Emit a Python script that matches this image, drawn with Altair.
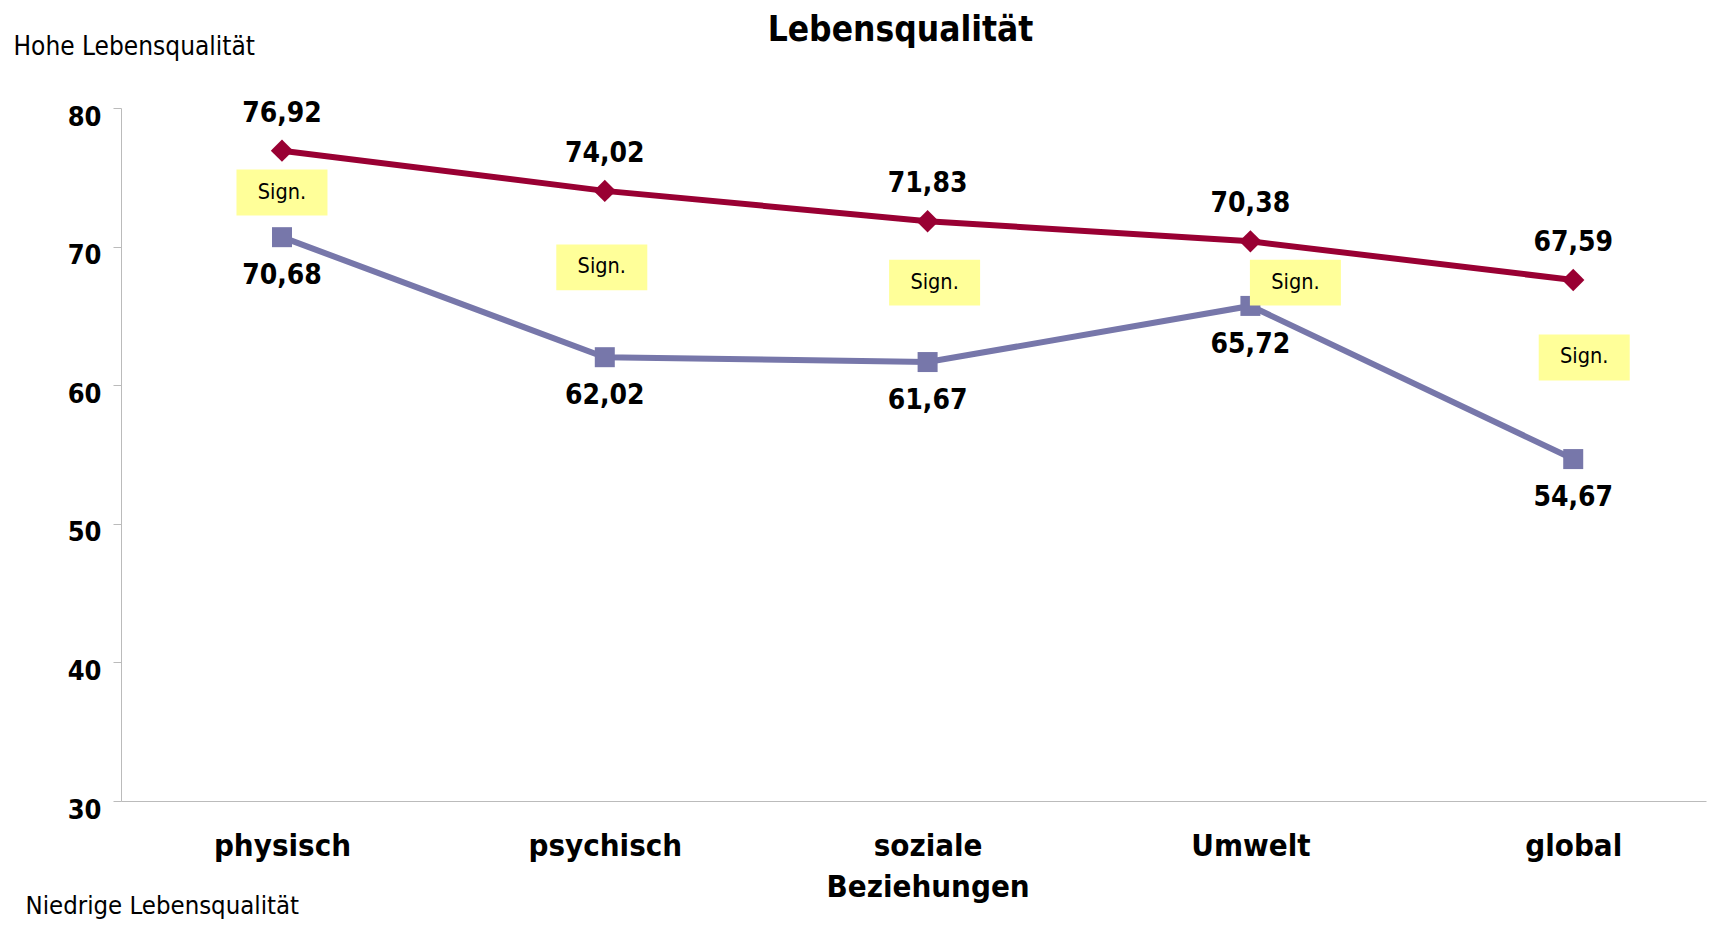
import altair as alt
import pandas as pd

# ---------------- data ----------------
categories = ["physisch", "psychisch", "soziale Beziehungen", "Umwelt", "global"]
hohe_values = [76.92, 74.02, 71.83, 70.38, 67.59]
niedrige_values = [70.68, 62.02, 61.67, 65.72, 54.67]
y_ticks = [30, 40, 50, 60, 70, 80]

# "Sign." annotation boxes (anchored in data units, small pixel nudges)
sign_text = ["Sign.", "Sign.", "Sign.", "Sign.", "Sign."]
sign_y = [73.9, 68.5, 67.4, 67.4, 62.0]
sign_dx = [0, -3, 7, 45, 11]

FONT = "DejaVu Sans Condensed, DejaVu Sans"
RED = "#990033"
PURPLE = "#7777AA"

df = pd.DataFrame({
    "Kategorie": categories * 2,
    "Wert": hohe_values + niedrige_values,
    "Gruppe": ["Hohe"] * len(categories) + ["Niedrige"] * len(categories),
})
df["Label"] = df["Wert"].map(lambda v: f"{v:.2f}".replace(".", ","))

sign_df = pd.DataFrame({"Kategorie": categories, "y": sign_y, "dx": sign_dx, "t": sign_text})

x_enc = alt.X(
    "Kategorie:N",
    sort=categories,
    scale=alt.Scale(type="point", padding=0.455, align=0.548),
    axis=alt.Axis(
        title="Niedrige Lebensqualität",
        titleFont=FONT, titleFontSize=25.5, titleFontWeight="normal", titleColor="black",
        titleAnchor="start", titleAlign="left", titleBaseline="alphabetic",
        titleX=-96, titleY=112,
        labelAngle=0, labelFont=FONT, labelFontSize=31, labelFontWeight="bold",
        labelColor="black", labelPadding=30, labelLineHeight=41, labelLimit=0,
        labelExpr="split(datum.label, ' ')",
        ticks=False, domainColor="#BBBBBB", domainWidth=1, grid=False,
    ),
)
y_scale = alt.Scale(domain=[30, 80], nice=False, zero=False)
y_enc = alt.Y(
    "Wert:Q",
    scale=y_scale,
    axis=alt.Axis(
        values=y_ticks, format="d", grid=False,
        domainColor="#BBBBBB", tickColor="#BBBBBB", tickSize=8,
        labelFont=FONT, labelFontSize=27, labelFontWeight="bold", labelColor="black",
        labelPadding=12, labelOffset=9,
        title="Hohe Lebensqualität",
        titleFont=FONT, titleFontSize=26, titleFontWeight="normal", titleColor="black",
        titleAngle=0, titleAlign="left", titleBaseline="alphabetic",
        titleX=-108, titleY=-54,
    ),
)

base = alt.Chart(df)
hohe = base.transform_filter(alt.datum.Gruppe == "Hohe")
nied = base.transform_filter(alt.datum.Gruppe == "Niedrige")

line_h = hohe.mark_line(color=RED, strokeWidth=6).encode(x=x_enc, y=y_enc)
line_n = nied.mark_line(color=PURPLE, strokeWidth=6).encode(x=x_enc, y=y_enc)
pt_h = hohe.mark_point(shape="diamond", size=500, filled=True, color=RED, opacity=1).encode(x=x_enc, y=y_enc)
pt_n = nied.mark_point(shape="square", size=400, filled=True, color=PURPLE, opacity=1).encode(x=x_enc, y=y_enc)
lab_h = hohe.mark_text(dy=-37, font=FONT, fontSize=28, fontWeight="bold", color="black").encode(
    x=x_enc, y=y_enc, text="Label:N")
lab_n = nied.mark_text(dy=39, font=FONT, fontSize=28, fontWeight="bold", color="black").encode(
    x=x_enc, y=y_enc, text="Label:N")

sign_base = alt.Chart(sign_df)
box = sign_base.mark_point(
    shape="M-1,-0.505H1V0.505H-1Z", size=8281, filled=True, fill="#FFFF99",
    strokeWidth=0, opacity=1,
).encode(
    x=alt.X("Kategorie:N", sort=categories),
    y=alt.Y("y:Q"),
    xOffset=alt.XOffset("dx:Q", scale=None),
)
box_text = sign_base.mark_text(font=FONT, fontSize=21.5, color="black").encode(
    x=alt.X("Kategorie:N", sort=categories),
    y=alt.Y("y:Q"),
    xOffset=alt.XOffset("dx:Q", scale=None),
    text="t:N",
)

chart = alt.layer(line_h, line_n, pt_h, pt_n, lab_h, lab_n, box, box_text).properties(
    width=1585,
    height=693,
    padding={"left": 113, "top": 100, "right": 6, "bottom": 122},
    autosize=alt.AutoSizeParams(type="none"),
    title=alt.TitleParams(
        "Lebensqualität", font=FONT, fontSize=35, fontWeight="bold", color="black",
        anchor="middle", frame="group", dx=-13, offset=-43, baseline="alphabetic",
    ),
).configure_view(stroke=None)

chart.save("out.html", embed_options={"renderer": "svg", "actions": False})
